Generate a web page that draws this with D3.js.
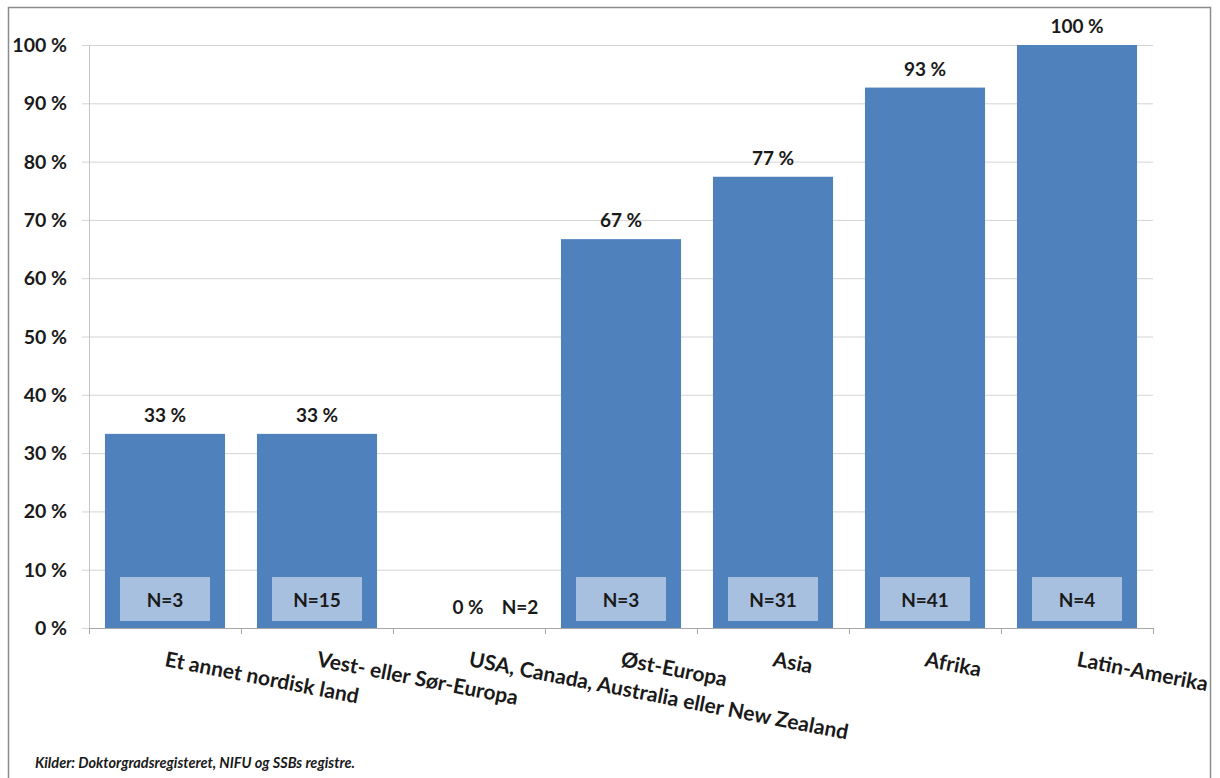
<!DOCTYPE html>
<html>
<head>
<meta charset="utf-8">
<script src="https://cdn.jsdelivr.net/npm/d3@7"></script>
<style>
  html, body { margin: 0; padding: 0; background: #fff; }
  svg { display: block; font-family: Lato, "Open Sans", sans-serif; }
</style>
</head>
<body>
<svg id="chart" width="1220" height="778"></svg>
<script>
const categories = ["Et annet nordisk land", "Vest- eller Sør-Europa", "USA, Canada, Australia eller New Zealand", "Øst-Europa", "Asia", "Afrika", "Latin-Amerika"];
const values = [33.3, 33.3, 0, 66.7, 77.4, 92.7, 100];
const valueLabels = ["33 %", "33 %", "0 %", "67 %", "77 %", "93 %", "100 %"];
const nLabels = ["N=3", "N=15", "N=2", "N=3", "N=31", "N=41", "N=4"];
const yTicks = [0, 10, 20, 30, 40, 50, 60, 70, 80, 90, 100];
const source = "Kilder: Doktorgradsregisteret, NIFU og SSBs registre.";

const svg = d3.select("#chart");
const pLeft = 89, pRight = 1153, pTop = 45, pBottom = 628;

svg.append("defs").append("clipPath").attr("id", "frame")
  .append("rect").attr("x", 0).attr("y", 0).attr("width", 1208).attr("height", 778);

// outer border
svg.append("rect").attr("x", 8.5).attr("y", 7.5).attr("width", 1202).attr("height", 800)
  .attr("fill", "none").attr("stroke", "#8c8c8c").attr("stroke-width", 1.5);

const x = d3.scaleBand().domain(categories).range([pLeft, pRight]).paddingInner(0.21).paddingOuter(0.105);
const xb = d3.scaleBand().domain(categories).range([pLeft, pRight]);
const y = d3.scaleLinear().domain([0, 100]).range([pBottom, pTop]);

// gridlines
svg.append("g").selectAll("line").data(yTicks).join("line")
  .attr("x1", pLeft - 7).attr("x2", pRight)
  .attr("y1", d => y(d) + 0.5).attr("y2", d => y(d) + 0.5)
  .attr("stroke", "#d4d4d4").attr("stroke-width", 1);

// y axis line
svg.append("line").attr("x1", pLeft + 0.5).attr("x2", pLeft + 0.5).attr("y1", pTop).attr("y2", pBottom)
  .attr("stroke", "#c4c4c4").attr("stroke-width", 1);

// y tick labels
svg.append("g").selectAll("text").data(yTicks).join("text")
  .attr("x", 67).attr("y", d => y(d) + 7)
  .attr("text-anchor", "end").attr("font-size", 19.5).attr("font-weight", "bold").attr("fill", "#1a1a1a")
  .text(d => d + " %");

// bars
svg.append("g").selectAll("rect").data(values).join("rect")
  .attr("x", (d, i) => x(categories[i])).attr("width", x.bandwidth())
  .attr("y", d => y(d)).attr("height", d => pBottom - y(d))
  .attr("fill", "#4f81bd");

// x axis line and ticks
svg.append("line").attr("x1", pLeft).attr("x2", pRight).attr("y1", pBottom + 0.5).attr("y2", pBottom + 0.5)
  .attr("stroke", "#a6a6a6").attr("stroke-width", 1);
const tickPos = categories.map(c => xb(c)).concat([pRight]);
svg.append("g").selectAll("line").data(tickPos).join("line")
  .attr("x1", d => d + 0.5).attr("x2", d => d + 0.5).attr("y1", pBottom).attr("y2", pBottom + 6)
  .attr("stroke", "#a6a6a6").attr("stroke-width", 1);

// value labels
svg.append("g").selectAll("text").data(values).join("text")
  .attr("x", (d, i) => d > 0 ? x(categories[i]) + x.bandwidth() / 2 : x(categories[i]) + x.bandwidth() / 2 - 1)
  .attr("y", d => d > 0 ? y(d) - 12 : 614)
  .attr("text-anchor", "middle").attr("font-size", 19).attr("font-weight", "bold").attr("fill", "#1a1a1a")
  .text((d, i) => valueLabels[i]);

// N boxes
const nb = svg.append("g");
values.forEach((v, i) => {
  const cx = x(categories[i]) + x.bandwidth() / 2;
  if (v > 0) {
    nb.append("rect").attr("x", cx - 45).attr("y", 577).attr("width", 90).attr("height", 44)
      .attr("fill", "#a8c0df");
    nb.append("text").attr("x", cx).attr("y", 606.5).attr("text-anchor", "middle")
      .attr("font-size", 19).attr("font-weight", "bold").attr("fill", "#1a1a1a").text(nLabels[i]);
  } else {
    nb.append("text").attr("x", cx + 51).attr("y", 614).attr("text-anchor", "middle")
      .attr("font-size", 19).attr("font-weight", "bold").attr("fill", "#1a1a1a").text(nLabels[i]);
  }
});

// x labels rotated
svg.append("g").attr("clip-path", "url(#frame)").selectAll("text").data(categories).join("text")
  .attr("transform", d => `translate(${xb(d) + xb.bandwidth() / 2 - 1},${666}) rotate(11)`)
  .attr("font-size", 21).attr("font-weight", "bold").attr("fill", "#1a1a1a")
  .text(d => d);

// source
svg.append("text").attr("x", 35).attr("y", 768).attr("font-size", 14.5).attr("font-weight", "bold")
  .attr("font-style", "italic").attr("fill", "#1a1a1a").text(source);
</script>
</body>
</html>
